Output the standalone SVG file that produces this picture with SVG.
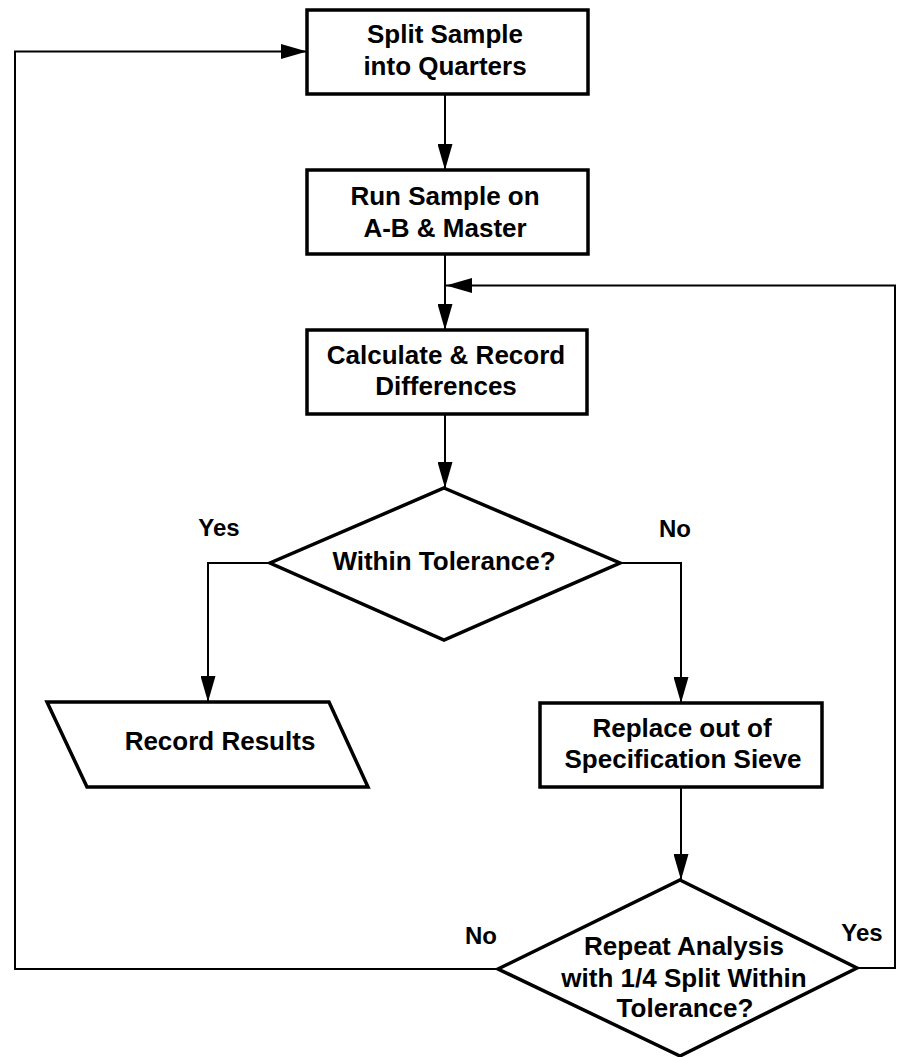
<svg xmlns="http://www.w3.org/2000/svg" width="897" height="1057" viewBox="0 0 897 1057">
<style>
.box{fill:#fff;stroke:#000;stroke-width:3.5}
.dia{fill:#fff;stroke:#000;stroke-width:3.5;stroke-linejoin:miter}
.t{font-family:"Liberation Sans",Arial,sans-serif;font-weight:bold;font-size:26px;fill:#000;text-anchor:middle}
.lbl{font-family:"Liberation Sans",Arial,sans-serif;font-weight:bold;font-size:24px;fill:#000;text-anchor:middle}
.c{fill:none;stroke:#000;stroke-width:2}
</style>
<defs>
<marker id="ah" markerUnits="userSpaceOnUse" markerWidth="26" markerHeight="15" refX="26" refY="7.5" orient="auto">
<path d="M0,0 L26,7.5 L0,15 z" fill="#000"/>
</marker>
</defs>
<rect width="897" height="1057" fill="#fff"/>
<g id="connectors">
<path class="c" d="M445,94 L445,170" marker-end="url(#ah)"/>
<path class="c" d="M445,254 L445,330" marker-end="url(#ah)"/>
<path class="c" d="M857,968 L895,968 L895,285.5 L446,285.5" marker-end="url(#ah)"/>
<path class="c" d="M445,414 L445,488" marker-end="url(#ah)"/>
<path class="c" d="M270,563 L208,563 L208,702" marker-end="url(#ah)"/>
<path class="c" d="M620,563 L681,563 L681,703" marker-end="url(#ah)"/>
<path class="c" d="M681,787 L681,880" marker-end="url(#ah)"/>
<path class="c" d="M498,969 L15,969 L15,51.5 L307,51.5" marker-end="url(#ah)"/>
</g>
<g id="split">
<rect class="box" x="307" y="10" width="281" height="84"/>
<text class="t" x="445" y="43">Split Sample</text>
<text class="t" x="445" y="75">into Quarters</text>
</g>
<g id="run">
<rect class="box" x="307" y="170" width="281" height="84"/>
<text class="t" x="445" y="205">Run Sample on</text>
<text class="t" x="445" y="237">A-B &amp; Master</text>
</g>
<g id="calc">
<rect class="box" x="307" y="330" width="280" height="84"/>
<text class="t" x="446" y="364">Calculate &amp; Record</text>
<text class="t" x="446" y="395">Differences</text>
</g>
<g id="within">
<polygon class="dia" points="444,488 620,563 444,640 270,563"/>
<text class="t" x="444" y="570">Within Tolerance?</text>
<text class="lbl" x="219" y="536">Yes</text>
<text class="lbl" x="675" y="537">No</text>
</g>
<g id="record">
<polygon class="dia" points="47,702 329,702 368,787 87,787"/>
<text class="t" x="220" y="750">Record Results</text>
</g>
<g id="replace">
<rect class="box" x="540" y="703" width="282" height="84"/>
<text class="t" x="682" y="737">Replace out of</text>
<text class="t" x="683" y="768">Specification Sieve</text>
</g>
<g id="repeat">
<polygon class="dia" points="680,880 857,968 680,1056 498,969"/>
<text class="t" x="684" y="955">Repeat Analysis</text>
<text class="t" x="684" y="987">with 1/4 Split Within</text>
<text class="t" x="685" y="1017">Tolerance?</text>
<text class="lbl" x="481" y="944">No</text>
<text class="lbl" x="862" y="941">Yes</text>
</g>
</svg>
